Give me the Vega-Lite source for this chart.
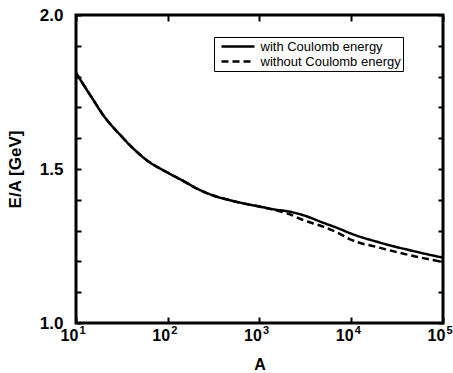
{
  "$schema": "https://vega.github.io/schema/vega-lite/v6.json",
  "width": 367,
  "height": 308,
  "autosize": "none",
  "padding": {"left": 76, "top": 15, "right": 10, "bottom": 50},
  "background": "white",
  "config": {
    "font": "Liberation Sans",
    "view": {"stroke": "black", "strokeWidth": 3},
    "axis": {"domain": false, "grid": false, "ticks": true, "tickColor": "black", "tickWidth": 2, "tickOpacity": 1, "labelColor": "black", "titleColor": "black"}
  },
  "data": {
    "values": [
      {"A": 10, "E": 1.812, "s": "with Coulomb energy"},
      {"A": 15, "E": 1.73, "s": "with Coulomb energy"},
      {"A": 20, "E": 1.673, "s": "with Coulomb energy"},
      {"A": 30, "E": 1.612, "s": "with Coulomb energy"},
      {"A": 40, "E": 1.573, "s": "with Coulomb energy"},
      {"A": 60, "E": 1.527, "s": "with Coulomb energy"},
      {"A": 100, "E": 1.488, "s": "with Coulomb energy"},
      {"A": 150, "E": 1.46, "s": "with Coulomb energy"},
      {"A": 200, "E": 1.439, "s": "with Coulomb energy"},
      {"A": 300, "E": 1.416, "s": "with Coulomb energy"},
      {"A": 500, "E": 1.397, "s": "with Coulomb energy"},
      {"A": 700, "E": 1.387, "s": "with Coulomb energy"},
      {"A": 1000, "E": 1.378, "s": "with Coulomb energy"},
      {"A": 1500, "E": 1.368, "s": "with Coulomb energy"},
      {"A": 2000, "E": 1.363, "s": "with Coulomb energy"},
      {"A": 3000, "E": 1.35, "s": "with Coulomb energy"},
      {"A": 5000, "E": 1.325, "s": "with Coulomb energy"},
      {"A": 7000, "E": 1.309, "s": "with Coulomb energy"},
      {"A": 10000, "E": 1.29, "s": "with Coulomb energy"},
      {"A": 20000, "E": 1.262, "s": "with Coulomb energy"},
      {"A": 50000, "E": 1.232, "s": "with Coulomb energy"},
      {"A": 100000, "E": 1.212, "s": "with Coulomb energy"},
      {"A": 10, "E": 1.812, "s": "without Coulomb energy"},
      {"A": 15, "E": 1.73, "s": "without Coulomb energy"},
      {"A": 20, "E": 1.673, "s": "without Coulomb energy"},
      {"A": 30, "E": 1.612, "s": "without Coulomb energy"},
      {"A": 40, "E": 1.573, "s": "without Coulomb energy"},
      {"A": 60, "E": 1.527, "s": "without Coulomb energy"},
      {"A": 100, "E": 1.488, "s": "without Coulomb energy"},
      {"A": 150, "E": 1.46, "s": "without Coulomb energy"},
      {"A": 200, "E": 1.439, "s": "without Coulomb energy"},
      {"A": 300, "E": 1.416, "s": "without Coulomb energy"},
      {"A": 500, "E": 1.397, "s": "without Coulomb energy"},
      {"A": 700, "E": 1.387, "s": "without Coulomb energy"},
      {"A": 1000, "E": 1.378, "s": "without Coulomb energy"},
      {"A": 1500, "E": 1.366, "s": "without Coulomb energy"},
      {"A": 2000, "E": 1.356, "s": "without Coulomb energy"},
      {"A": 3000, "E": 1.334, "s": "without Coulomb energy"},
      {"A": 5000, "E": 1.312, "s": "without Coulomb energy"},
      {"A": 7000, "E": 1.294, "s": "without Coulomb energy"},
      {"A": 10000, "E": 1.27, "s": "without Coulomb energy"},
      {"A": 20000, "E": 1.245, "s": "without Coulomb energy"},
      {"A": 50000, "E": 1.216, "s": "without Coulomb energy"},
      {"A": 100000, "E": 1.198, "s": "without Coulomb energy"}
    ]
  },
  "resolve": {"axis": {"x": "independent", "y": "independent"}},
  "layer": [
    {
      "mark": {"type": "line", "color": "black", "strokeWidth": 2.5, "clip": true, "interpolate": "monotone"},
      "encoding": {
        "x": {
          "field": "A", "type": "quantitative",
          "scale": {"type": "log", "domain": [10, 100000]},
          "axis": {
            "orient": "bottom",
            "offset": -6,
            "values": [10, 100, 1000, 10000, 100000],
            "labelExpr": "'10'",
            "labelFontSize": 16, "labelFontWeight": "bold",
            "labelOffset": -7, "labelPadding": 4,
            "labelFlush": false, "labelOverlap": false,
            "ticks": true, "tickSize": 6,
            "title": "A", "titleFontSize": 16, "titleFontWeight": "bold", "titlePadding": 13
          }
        },
        "y": {
          "field": "E", "type": "quantitative",
          "scale": {"domain": [1.0, 2.0], "nice": false, "zero": false},
          "axis": {
            "orient": "left",
            "offset": -5,
            "values": [1.0, 1.1, 1.2, 1.3, 1.4, 1.5, 1.6, 1.7, 1.8, 1.9, 2.0],
            "labelExpr": "abs(datum.value*2 - round(datum.value*2)) < 0.001 ? format(datum.value, '.1f') : ''",
            "labelFontSize": 17, "labelFontWeight": "bold",
            "labelPadding": 13, "labelFlush": false, "labelOverlap": false,
            "ticks": true, "tickSize": 5,
            "title": "E/A [GeV]", "titleFontSize": 17, "titleFontWeight": "bold", "titlePadding": 15
          }
        },
        "strokeDash": {
          "field": "s", "type": "nominal",
          "scale": {"domain": ["with Coulomb energy", "without Coulomb energy"], "range": [[1, 0], [7, 4]]},
          "legend": {
            "orient": "none", "legendX": 138, "legendY": 22,
            "title": null,
            "strokeColor": "black", "fillColor": "white",
            "padding": 2,
            "symbolType": "M-2.75,0H2.75", "symbolStrokeWidth": 2.5, "symbolSize": 144,
            "symbolOffset": 14.5,
            "symbolStrokeColor": "black",
            "labelFontSize": 13, "labelColor": "black", "labelOffset": 15,
            "rowPadding": 0, "labelLimit": 300
          }
        }
      }
    },
    {
      "mark": {"type": "line", "opacity": 0},
      "encoding": {
        "x": {
          "field": "A", "type": "quantitative",
          "axis": {
            "orient": "bottom",
            "values": [10, 100, 1000, 10000, 100000],
            "labelExpr": "format(log(datum.value)/LN10, '.0f')",
            "labelFontSize": 11, "labelFontWeight": "bold",
            "labelOffset": 6, "labelPadding": 1,
            "labelFlush": false, "labelOverlap": false,
            "ticks": false, "title": null
          }
        },
        "y": {
          "field": "E", "type": "quantitative",
          "axis": {
            "orient": "right",
            "offset": -5,
            "values": [1.0, 1.1, 1.2, 1.3, 1.4, 1.5, 1.6, 1.7, 1.8, 1.9, 2.0],
            "labels": false, "ticks": true, "tickSize": 5, "title": null
          }
        },
        "detail": {"field": "s"}
      }
    },
    {
      "mark": {"type": "line", "opacity": 0},
      "encoding": {
        "x": {
          "field": "A", "type": "quantitative",
          "axis": {
            "orient": "top",
            "offset": -6,
            "values": [10, 100, 1000, 10000, 100000],
            "labels": false, "ticks": true, "tickSize": 6, "title": null
          }
        },
        "y": {"field": "E", "type": "quantitative", "axis": null},
        "detail": {"field": "s"}
      }
    }
  ]
}
